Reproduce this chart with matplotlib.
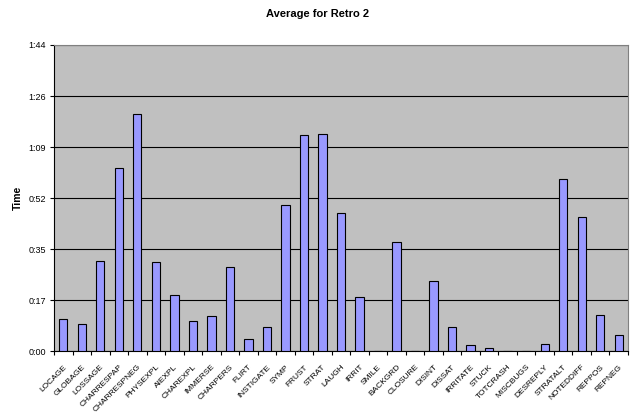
import matplotlib
matplotlib.use("Agg")
import matplotlib.pyplot as plt
import numpy as np

categories = ["LOCAGE", "GLOBAGE", "LOSSAGE", "CHARRESPAP", "CHARRESPNEG", "PHYSEXPL",
              "AIEXPL", "CHAREXPL", "IMMERSE", "CHARPERS", "FLIRT", "INSTIGATE", "SYMP",
              "FRUST", "STRAT", "LAUGH", "IRRIT", "SMILE", "BACKGRD", "CLOSURE", "DISINT",
              "DISSAT", "IRRITATE", "STUCK", "TOTCRASH", "MISCBUGS", "DESREPLY", "STRATALT",
              "NOTEDDIFF", "REPPOS", "REPNEG"]
# average time in seconds
avg_seconds = [11.0, 9.1, 30.5, 62.1, 80.7, 30.1, 19.1, 10.1, 11.8, 28.4, 4.1, 8.2, 49.7,
               73.3, 73.7, 46.8, 18.2, 0.0, 36.9, 0.0, 23.7, 8.0, 2.0, 0.9, 0.0, 0.0, 2.3,
               58.6, 45.4, 12.1, 5.3]
ytick_values = [0, 104 / 6, 2 * 104 / 6, 3 * 104 / 6, 4 * 104 / 6, 5 * 104 / 6, 104]
ytick_labels = ["0:00", "0:17", "0:35", "0:52", "1:09", "1:26", "1:44"]

plt.rcParams["font.family"] = ["Liberation Sans", "DejaVu Sans"]

fig = plt.figure(figsize=(6.32, 4.15), dpi=100)
ax = fig.add_axes([54 / 632, 1 - 351 / 415, 574 / 632, 306 / 415])
ax.set_facecolor("#C0C0C0")

x = np.arange(len(categories))
ax.bar(x, avg_seconds, width=0.45, color="#9999FF", edgecolor="black", linewidth=0.8, zorder=3)

ax.set_xlim(-0.5, len(categories) - 0.5)
ax.set_ylim(0, 104)
ax.set_yticks(ytick_values)
ax.set_yticklabels(ytick_labels, fontsize=6.5)
ax.yaxis.grid(True, color="black", linewidth=0.8, zorder=1)
ax.set_axisbelow(True)

ax.set_xticks(x)
ax.set_xticklabels(categories, rotation=45, ha="right", rotation_mode="anchor", fontsize=6)
ax.set_xticks(np.arange(len(categories) + 1) - 0.5, minor=True)
ax.tick_params(axis="x", which="major", length=0, pad=9)
ax.tick_params(axis="x", which="minor", length=3, width=0.8, direction="out")
ax.tick_params(axis="y", length=3, width=0.8, direction="out", pad=3)

for side in ("top", "right"):
    ax.spines[side].set_color("#808080")
    ax.spines[side].set_linewidth(0.8)
for side in ("left", "bottom"):
    ax.spines[side].set_color("black")
    ax.spines[side].set_linewidth(0.8)

ax.set_ylabel("Time", fontsize=7.5, fontweight="bold", labelpad=4)
fig.text(318 / 632, 1 - 14 / 415, "Average for Retro 2", ha="center", va="center",
         fontsize=8, fontweight="bold")

fig.savefig("out.png", dpi=100)
